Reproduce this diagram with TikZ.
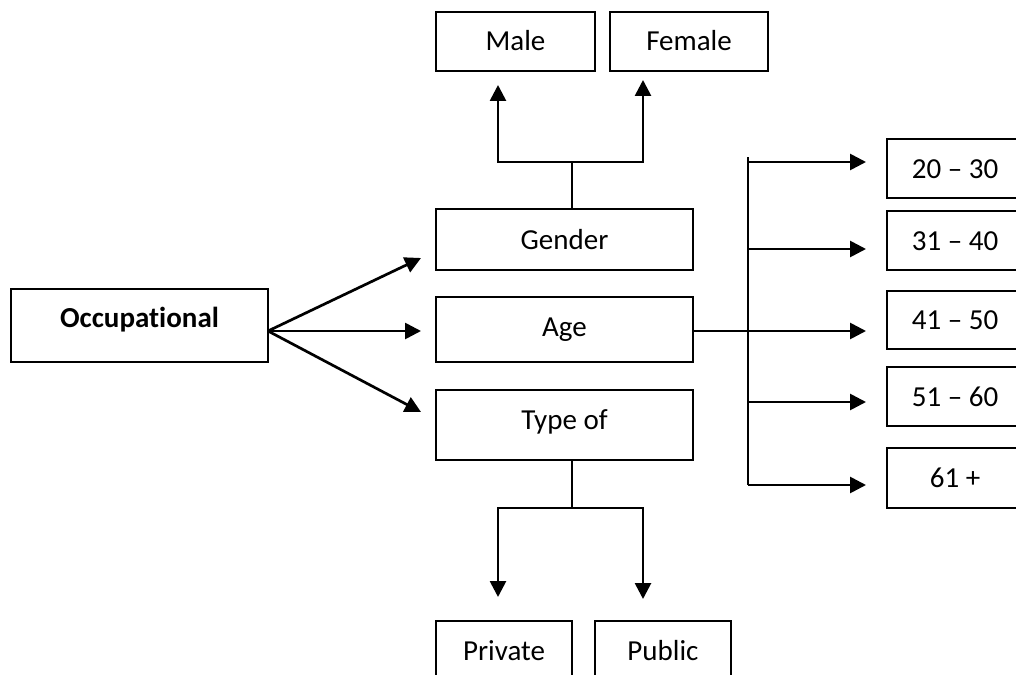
\documentclass[tikz,border=0pt]{standalone}
\usepackage{fontspec}
\setmainfont{Carlito}[Ligatures=NoCommon]
\usetikzlibrary{arrows.meta}

\begin{document}
\begin{tikzpicture}[x=1pt, y=-1pt]
        \useasboundingbox (0,0) rectangle (1016,674);
        \clip (0,0) rectangle (1016,674);
        \begin{scope}[every node/.style={draw, rectangle, line width=2pt, inner sep=0pt, text height=19pt, text depth=0pt, font=\fontsize{29}{35}\selectfont}]
                \node[minimum width=257pt, minimum height=73pt, text height=20pt, text depth=16pt, font=\fontsize{29}{35}\selectfont\bfseries] (occ) at (139.5,325.5) {Occupational};
                \node[minimum width=159pt, minimum height=59pt] (male) at (515.5,41.5) {Male};
                \node[minimum width=158pt, minimum height=59pt] (female) at (689,41.5) {Female};
                \node[minimum width=257pt, minimum height=61pt] (gender) at (564.5,239.5) {Gender};
                \node[minimum width=257pt, minimum height=65pt, text depth=5pt] (age) at (564.5,329.5) {Age};
                \node[minimum width=257pt, minimum height=70pt, text depth=10pt] (type) at (564.5,425) {Type of};
                \node[minimum width=136pt, minimum height=60pt] (private) at (504,651) {Private};
                \node[minimum width=136pt, minimum height=60pt] (public) at (663,651) {Public};
                \foreach \by/\h/\txt [count=\i] in {168.5/59/20 – 30, 240.5/59/31 – 40, 320/58/41 – 50, 396.5/59/51 – 60, 478/60/61 +}
                        \node[minimum width=136pt, minimum height=\h pt] (r\i) at (955,\by) {\txt};
        \end{scope}
        \coordinate (occout) at (268,331);
        \coordinate (gin) at (421,258);
        \coordinate (ain) at (421,331);
        \coordinate (tin) at (421,412);
        \coordinate (gsplit) at (572,162);
        \coordinate (maletip) at (498,85);
        \coordinate (femaletip) at (643,80);
        \coordinate (tsplit) at (572,508);
        \coordinate (privtip) at (498,597);
        \coordinate (pubtip) at (643,599);
        \coordinate (bustop) at (748,157);
        \coordinate (busbot) at (748,485);
        \foreach \ay [count=\i] in {162,249,331,402,485}
                \coordinate (t\i) at (866,\ay);
        \begin{scope}[every path/.style={line width=1.9pt}]
                \path (gender.north -| gsplit) edge (gsplit);
                \path (type.south -| tsplit) edge (tsplit);
                \path (bustop) edge[line width=2.2pt] (busbot);
                \path (age.east |- t3) edge[line width=1.5pt] (t3 -| bustop);
        \end{scope}
        \begin{scope}[every path/.style={line width=2.7pt, ->, >={Triangle[length=16pt, width=16pt]}}]
                \path (occout) edge (gin);
                \path (occout) edge (ain);
                \path (occout) edge (tin);
                \draw (gsplit) -| (maletip);
                \draw (gsplit) -| (femaletip);
                \draw (tsplit) -| (privtip);
                \draw (tsplit) -| (pubtip);
                \foreach \i in {1,...,5}
                        \path (t\i -| bustop) edge (t\i);
        \end{scope}
\end{tikzpicture}
\end{document}
